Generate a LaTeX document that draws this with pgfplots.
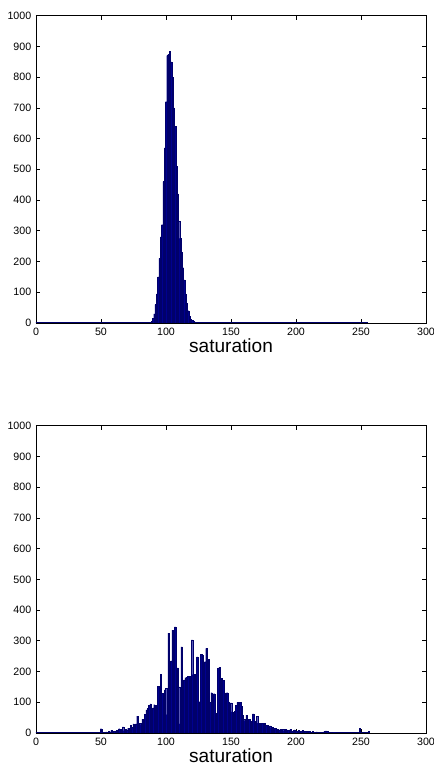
\documentclass[border=0pt]{standalone}
\usepackage{fontspec}
\setmainfont{Liberation Sans}
\usepackage{pgfplots}
\pgfplotsset{compat=1.18}
\definecolor{barblue}{rgb}{0,0,0.56}
\definecolor{baredge}{rgb}{0,0,0.42}

\pgfplotsset{histax/.style={
  scale only axis,
  width=292.5pt, height=230.5pt,
  xmin=0, xmax=300, ymin=0, ymax=1000,
  xtick={0,50,...,300}, ytick={0,100,...,1000},
  tick align=inside, major tick length=3pt,
  axis line style={line width=0.6pt},
  tick style={black, line width=0.5pt},
  ticklabel style={font=\fontsize{8}{9}\selectfont},
  /pgf/number format/assume math mode=true,
  /pgf/number format/1000 sep={},
  scaled ticks=false,
  xlabel={saturation},
  xlabel style={font=\fontsize{14.3}{16}\selectfont, yshift=4pt},
}}
\pgfplotsset{histbar/.style={ybar, bar width=1, fill=barblue, draw=baredge, line width=0.2pt}}

\begin{document}
\begin{tikzpicture}
% top: narrow peak around 100
\begin{axis}[histax, at={(0,307.5pt)}]
\addplot[baredge, line width=1pt] coordinates {(-0.5,0) (255.5,0)};
\addplot[histbar] coordinates {
  (88,2) (89,5) (90,15) (91,30) (92,60) (93,95) (94,150) (95,210)
  (96,280) (97,320) (98,460) (99,570) (100,720) (101,870) (102,875)
  (103,885) (104,850) (105,800) (106,700) (107,640) (108,510) (109,420)
  (110,330) (111,275) (112,230) (113,180) (114,140) (115,95) (116,65)
  (117,40) (118,22) (119,12) (120,8) (121,6) (122,4) (123,3) (124,2)
  (125,1) (126,1)};
\end{axis}
% bottom: wide, spiky distribution
\begin{axis}[histax, at={(0,0)}]
\addplot[baredge, line width=1pt] coordinates {(-0.5,0) (255.5,0)};
\addplot[histbar] coordinates {
  (49,2) (50,14) (51,1) (52,2) (53,3) (54,4) (55,2) (56,5) (57,3) (58,8)
  (59,4) (60,6) (61,3) (62,8) (63,5) (64,14) (65,6) (66,12) (67,20) (68,8)
  (69,12) (70,10) (71,16) (72,12) (73,25) (74,18) (75,30) (76,22) (77,30)
  (78,55) (79,25) (80,32) (81,28) (82,45) (83,35) (84,60) (85,75) (86,80)
  (87,90) (88,95) (89,78) (90,82) (91,92) (92,90) (93,80) (94,152) (95,60)
  (96,190) (97,130) (98,40) (99,140) (100,145) (101,60) (102,325) (103,118)
  (104,235) (105,335) (106,50) (107,345) (108,140) (109,212) (110,150)
  (111,30) (112,280) (113,130) (114,173) (115,180) (116,182) (117,184)
  (118,185) (119,60) (120,303) (121,190) (122,120) (123,190) (124,248)
  (125,100) (126,102) (127,255) (128,253) (129,40) (130,232) (131,275)
  (132,150) (133,239) (134,100) (135,131) (136,125) (137,128) (138,40)
  (139,64) (140,210) (141,213) (142,60) (143,177) (144,172) (145,131)
  (146,60) (147,131) (148,102) (149,96) (150,98) (151,69) (152,35) (153,70)
  (154,91) (155,100) (156,20) (157,100) (158,86) (159,58) (160,45) (161,40)
  (162,58) (163,37) (164,45) (165,18) (166,37) (167,62) (168,20) (169,37)
  (170,55) (171,32) (172,32) (173,25) (174,32) (175,20) (176,32) (177,26)
  (178,26) (179,15) (180,23) (181,18) (182,18) (183,14) (184,15) (185,12)
  (186,12) (187,10) (188,12) (189,11) (190,13) (191,8) (192,12) (193,10)
  (194,8) (195,10) (196,11) (197,6) (198,8) (199,10) (200,7) (201,5)
  (202,8) (203,6) (204,5) (205,8) (206,4) (207,6) (208,5) (209,3) (210,6)
  (211,4) (212,3) (213,5) (214,2) (215,3) (216,4) (217,2) (218,3) (219,1)
  (220,2) (221,3) (222,6) (223,7) (224,5) (225,2) (226,1) (227,2) (228,1)
  (229,1) (230,1) (240,3) (249,16) (256,6)};
\end{axis}
\pgfresetboundingbox
\useasboundingbox (-27pt,-25.5pt) rectangle (297.75pt,549.75pt);
\end{tikzpicture}
\end{document}
